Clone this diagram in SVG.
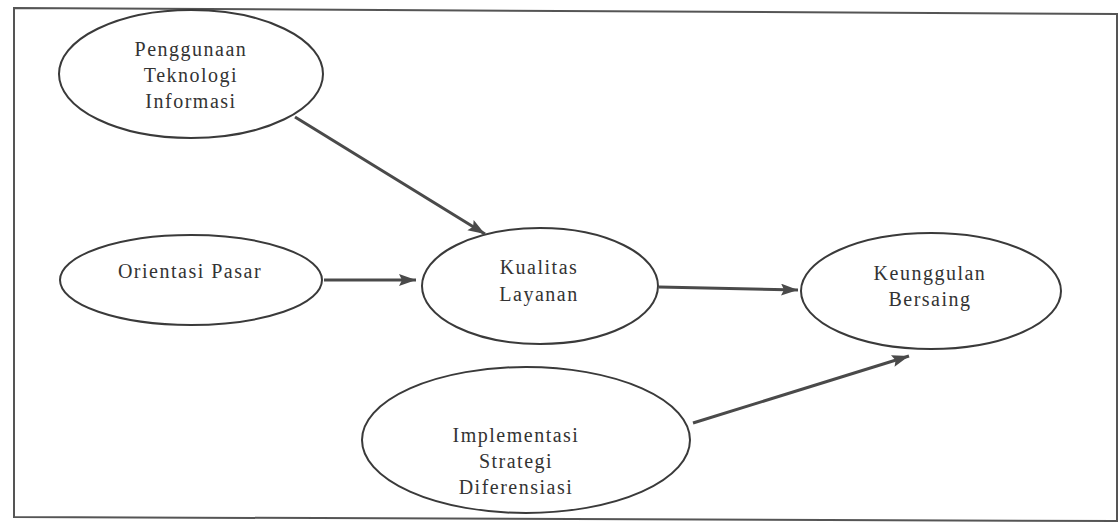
<svg xmlns="http://www.w3.org/2000/svg" width="1120" height="527" viewBox="0 0 1120 527">
<defs>
<style>
.node ellipse{fill:#fff;stroke:#3a3a3a;stroke-width:2}
.node text{font-family:"Liberation Serif","Times New Roman",serif;font-size:20px;letter-spacing:1.5px;fill:#333;text-anchor:middle}
.edge{stroke:#4a4a4a;stroke-width:3;fill:none;marker-end:url(#ah)}
</style>
<marker id="ah" markerUnits="userSpaceOnUse" markerWidth="20" markerHeight="14" refX="17" refY="6" orient="auto">
<path d="M0,0 L17,6 L0,12 L3,6 Z" fill="#4a4a4a"/>
</marker>
</defs>
<rect width="1120" height="527" fill="#fff"/>
<path d="M14,8 L1117,14 L1117,521 L14,517 Z" fill="none" stroke="#555" stroke-width="2"/>
<g id="n-penggunaan" class="node">
<ellipse cx="191" cy="74" rx="132" ry="64"/>
<text x="191" y="56">Penggunaan</text>
<text x="191" y="82">Teknologi</text>
<text x="191" y="108">Informasi</text>
</g>
<g id="n-orientasi" class="node">
<ellipse cx="191" cy="280" rx="131" ry="45"/>
<text x="190" y="278">Orientasi Pasar</text>
</g>
<g id="n-kualitas" class="node">
<ellipse cx="540" cy="286" rx="118" ry="58"/>
<text x="539" y="274">Kualitas</text>
<text x="539" y="301">Layanan</text>
</g>
<g id="n-keunggulan" class="node">
<ellipse cx="931" cy="291" rx="130" ry="58"/>
<text x="930" y="280">Keunggulan</text>
<text x="930" y="306">Bersaing</text>
</g>
<g id="n-implementasi" class="node">
<ellipse cx="526" cy="440" rx="164" ry="73"/>
<text x="516" y="442">Implementasi</text>
<text x="516" y="468">Strategi</text>
<text x="516" y="494">Diferensiasi</text>
</g>
<g id="connectors">
<line class="edge" x1="295" y1="117" x2="485" y2="234"/>
<line class="edge" x1="324" y1="280" x2="416" y2="280"/>
<line class="edge" x1="659" y1="287" x2="798" y2="290"/>
<line class="edge" x1="693" y1="423" x2="909" y2="356"/>
</g>
</svg>
